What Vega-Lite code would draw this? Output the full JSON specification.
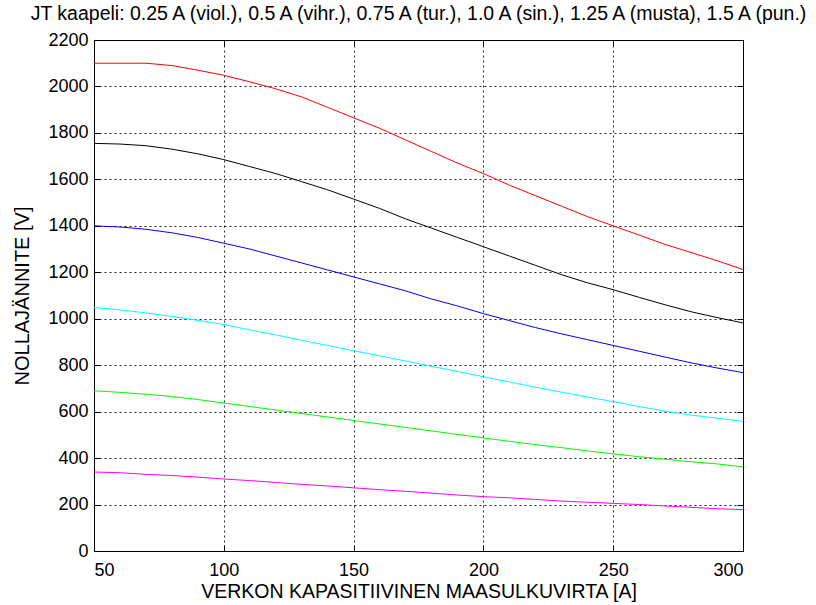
{
  "$schema": "https://vega.github.io/schema/vega-lite/v6.json",
  "width": 649,
  "height": 511,
  "autosize": "none",
  "padding": {"left": 94, "top": 40, "right": 73, "bottom": 54},
  "background": "white",
  "title": {
    "text": "JT kaapeli: 0.25 A (viol.), 0.5 A (vihr.), 0.75 A (tur.), 1.0 A (sin.), 1.25 A (musta), 1.5 A (pun.)",
    "font": "Liberation Sans",
    "fontSize": 19.5,
    "fontWeight": "normal",
    "color": "black",
    "anchor": "middle",
    "offset": 7
  },
  "config": {
    "view": {"stroke": "black", "strokeWidth": 1},
    "axis": {
      "labelFont": "Liberation Sans",
      "titleFont": "Liberation Sans",
      "labelFontSize": 18,
      "titleFontSize": 19.5,
      "titleFontWeight": "normal",
      "labelColor": "black",
      "titleColor": "black",
      "domainColor": "black",
      "tickColor": "black",
      "tickSize": -6,
      "gridColor": "black",
      "gridDash": [2, 3],
      "gridOpacity": 0.85,
      "gridWidth": 1
    }
  },
  "data": {
    "values": [
      {"I":50,"V":2100,"c":"1.5"},{"I":60,"V":2100,"c":"1.5"},{"I":70,"V":2100,"c":"1.5"},{"I":80,"V":2090,"c":"1.5"},{"I":90,"V":2070,"c":"1.5"},{"I":100,"V":2048,"c":"1.5"},{"I":110,"V":2020,"c":"1.5"},{"I":120,"V":1990,"c":"1.5"},{"I":130,"V":1955,"c":"1.5"},{"I":140,"V":1910,"c":"1.5"},{"I":150,"V":1865,"c":"1.5"},{"I":160,"V":1820,"c":"1.5"},{"I":170,"V":1770,"c":"1.5"},{"I":180,"V":1720,"c":"1.5"},{"I":190,"V":1670,"c":"1.5"},{"I":200,"V":1625,"c":"1.5"},{"I":210,"V":1575,"c":"1.5"},{"I":220,"V":1530,"c":"1.5"},{"I":230,"V":1485,"c":"1.5"},{"I":240,"V":1440,"c":"1.5"},{"I":250,"V":1400,"c":"1.5"},{"I":260,"V":1360,"c":"1.5"},{"I":270,"V":1320,"c":"1.5"},{"I":280,"V":1285,"c":"1.5"},{"I":290,"V":1250,"c":"1.5"},{"I":300,"V":1212,"c":"1.5"},
      {"I":50,"V":1755,"c":"1.25"},{"I":60,"V":1752,"c":"1.25"},{"I":70,"V":1745,"c":"1.25"},{"I":80,"V":1730,"c":"1.25"},{"I":90,"V":1710,"c":"1.25"},{"I":100,"V":1685,"c":"1.25"},{"I":110,"V":1655,"c":"1.25"},{"I":120,"V":1625,"c":"1.25"},{"I":130,"V":1590,"c":"1.25"},{"I":140,"V":1555,"c":"1.25"},{"I":150,"V":1515,"c":"1.25"},{"I":160,"V":1475,"c":"1.25"},{"I":170,"V":1430,"c":"1.25"},{"I":180,"V":1390,"c":"1.25"},{"I":190,"V":1350,"c":"1.25"},{"I":200,"V":1310,"c":"1.25"},{"I":210,"V":1270,"c":"1.25"},{"I":220,"V":1230,"c":"1.25"},{"I":230,"V":1190,"c":"1.25"},{"I":240,"V":1155,"c":"1.25"},{"I":250,"V":1125,"c":"1.25"},{"I":260,"V":1092,"c":"1.25"},{"I":270,"V":1060,"c":"1.25"},{"I":280,"V":1030,"c":"1.25"},{"I":290,"V":1005,"c":"1.25"},{"I":300,"V":982,"c":"1.25"},
      {"I":50,"V":1400,"c":"1.0"},{"I":60,"V":1395,"c":"1.0"},{"I":70,"V":1385,"c":"1.0"},{"I":80,"V":1370,"c":"1.0"},{"I":90,"V":1350,"c":"1.0"},{"I":100,"V":1325,"c":"1.0"},{"I":110,"V":1300,"c":"1.0"},{"I":120,"V":1270,"c":"1.0"},{"I":130,"V":1240,"c":"1.0"},{"I":140,"V":1210,"c":"1.0"},{"I":150,"V":1180,"c":"1.0"},{"I":160,"V":1150,"c":"1.0"},{"I":170,"V":1120,"c":"1.0"},{"I":180,"V":1085,"c":"1.0"},{"I":190,"V":1055,"c":"1.0"},{"I":200,"V":1022,"c":"1.0"},{"I":210,"V":992,"c":"1.0"},{"I":220,"V":962,"c":"1.0"},{"I":230,"V":935,"c":"1.0"},{"I":240,"V":910,"c":"1.0"},{"I":250,"V":885,"c":"1.0"},{"I":260,"V":860,"c":"1.0"},{"I":270,"V":835,"c":"1.0"},{"I":280,"V":810,"c":"1.0"},{"I":290,"V":788,"c":"1.0"},{"I":300,"V":768,"c":"1.0"},
      {"I":50,"V":1048,"c":"0.75"},{"I":60,"V":1038,"c":"0.75"},{"I":70,"V":1025,"c":"0.75"},{"I":80,"V":1010,"c":"0.75"},{"I":90,"V":993,"c":"0.75"},{"I":100,"V":975,"c":"0.75"},{"I":110,"V":952,"c":"0.75"},{"I":120,"V":930,"c":"0.75"},{"I":130,"V":907,"c":"0.75"},{"I":140,"V":885,"c":"0.75"},{"I":150,"V":862,"c":"0.75"},{"I":160,"V":840,"c":"0.75"},{"I":170,"V":818,"c":"0.75"},{"I":180,"V":795,"c":"0.75"},{"I":190,"V":773,"c":"0.75"},{"I":200,"V":750,"c":"0.75"},{"I":210,"V":728,"c":"0.75"},{"I":220,"V":705,"c":"0.75"},{"I":230,"V":684,"c":"0.75"},{"I":240,"V":663,"c":"0.75"},{"I":250,"V":643,"c":"0.75"},{"I":260,"V":622,"c":"0.75"},{"I":270,"V":602,"c":"0.75"},{"I":280,"V":585,"c":"0.75"},{"I":290,"V":572,"c":"0.75"},{"I":300,"V":558,"c":"0.75"},
      {"I":50,"V":690,"c":"0.5"},{"I":60,"V":683,"c":"0.5"},{"I":70,"V":675,"c":"0.5"},{"I":80,"V":665,"c":"0.5"},{"I":90,"V":652,"c":"0.5"},{"I":100,"V":637,"c":"0.5"},{"I":110,"V":622,"c":"0.5"},{"I":120,"V":607,"c":"0.5"},{"I":130,"V":592,"c":"0.5"},{"I":140,"V":577,"c":"0.5"},{"I":150,"V":562,"c":"0.5"},{"I":160,"V":547,"c":"0.5"},{"I":170,"V":532,"c":"0.5"},{"I":180,"V":517,"c":"0.5"},{"I":190,"V":502,"c":"0.5"},{"I":200,"V":487,"c":"0.5"},{"I":210,"V":472,"c":"0.5"},{"I":220,"V":458,"c":"0.5"},{"I":230,"V":445,"c":"0.5"},{"I":240,"V":431,"c":"0.5"},{"I":250,"V":418,"c":"0.5"},{"I":260,"V":406,"c":"0.5"},{"I":270,"V":395,"c":"0.5"},{"I":280,"V":384,"c":"0.5"},{"I":290,"V":375,"c":"0.5"},{"I":300,"V":362,"c":"0.5"},
      {"I":50,"V":340,"c":"0.25"},{"I":60,"V":337,"c":"0.25"},{"I":70,"V":330,"c":"0.25"},{"I":80,"V":325,"c":"0.25"},{"I":90,"V":318,"c":"0.25"},{"I":100,"V":310,"c":"0.25"},{"I":110,"V":303,"c":"0.25"},{"I":120,"V":295,"c":"0.25"},{"I":130,"V":287,"c":"0.25"},{"I":140,"V":280,"c":"0.25"},{"I":150,"V":272,"c":"0.25"},{"I":160,"V":264,"c":"0.25"},{"I":170,"V":257,"c":"0.25"},{"I":180,"V":249,"c":"0.25"},{"I":190,"V":241,"c":"0.25"},{"I":200,"V":234,"c":"0.25"},{"I":210,"V":229,"c":"0.25"},{"I":220,"V":222,"c":"0.25"},{"I":230,"V":215,"c":"0.25"},{"I":240,"V":210,"c":"0.25"},{"I":250,"V":205,"c":"0.25"},{"I":260,"V":200,"c":"0.25"},{"I":270,"V":194,"c":"0.25"},{"I":280,"V":188,"c":"0.25"},{"I":290,"V":182,"c":"0.25"},{"I":300,"V":178,"c":"0.25"}
    ]
  },
  "layer": [
    {
      "mark": {"type": "line", "strokeWidth": 1},
      "encoding": {
        "x": {
          "field": "I", "type": "quantitative",
          "scale": {"domain": [50, 300], "nice": false, "zero": false},
          "axis": {"orient": "bottom", "values": [50,100,150,200,250,300], "format": "d", "title": "VERKON KAPASITIIVINEN MAASULKUVIRTA [A]", "titlePadding": 3, "labelPadding": 16, "grid": true}
        },
        "y": {
          "field": "V", "type": "quantitative",
          "scale": {"domain": [0, 2200], "nice": false},
          "axis": {"orient": "left", "values": [0,200,400,600,800,1000,1200,1400,1600,1800,2000,2200], "format": "d", "title": "NOLLAJÄNNITE [V]", "titleFontSize": 20, "titlePadding": 15, "labelPadding": 12, "grid": true}
        },
        "color": {
          "field": "c", "type": "nominal",
          "scale": {"domain": ["0.25","0.5","0.75","1.0","1.25","1.5"], "range": ["#ff00ff","#00ff00","#00ffff","#0000ff","#000000","#ff0000"]},
          "legend": null
        },
        "detail": {"field": "c"}
      }
    },
    {
      "mark": {"type": "line", "opacity": 0},
      "encoding": {
        "x": {"field": "I", "type": "quantitative", "axis": {"orient": "top", "values": [50,100,150,200,250,300], "labels": false, "title": null, "grid": false, "domain": false}},
        "y": {"field": "V", "type": "quantitative", "axis": {"orient": "right", "values": [0,200,400,600,800,1000,1200,1400,1600,1800,2000,2200], "labels": false, "title": null, "grid": false, "domain": false}},
        "detail": {"field": "c"}
      }
    }
  ],
  "resolve": {"axis": {"x": "independent", "y": "independent"}}
}
